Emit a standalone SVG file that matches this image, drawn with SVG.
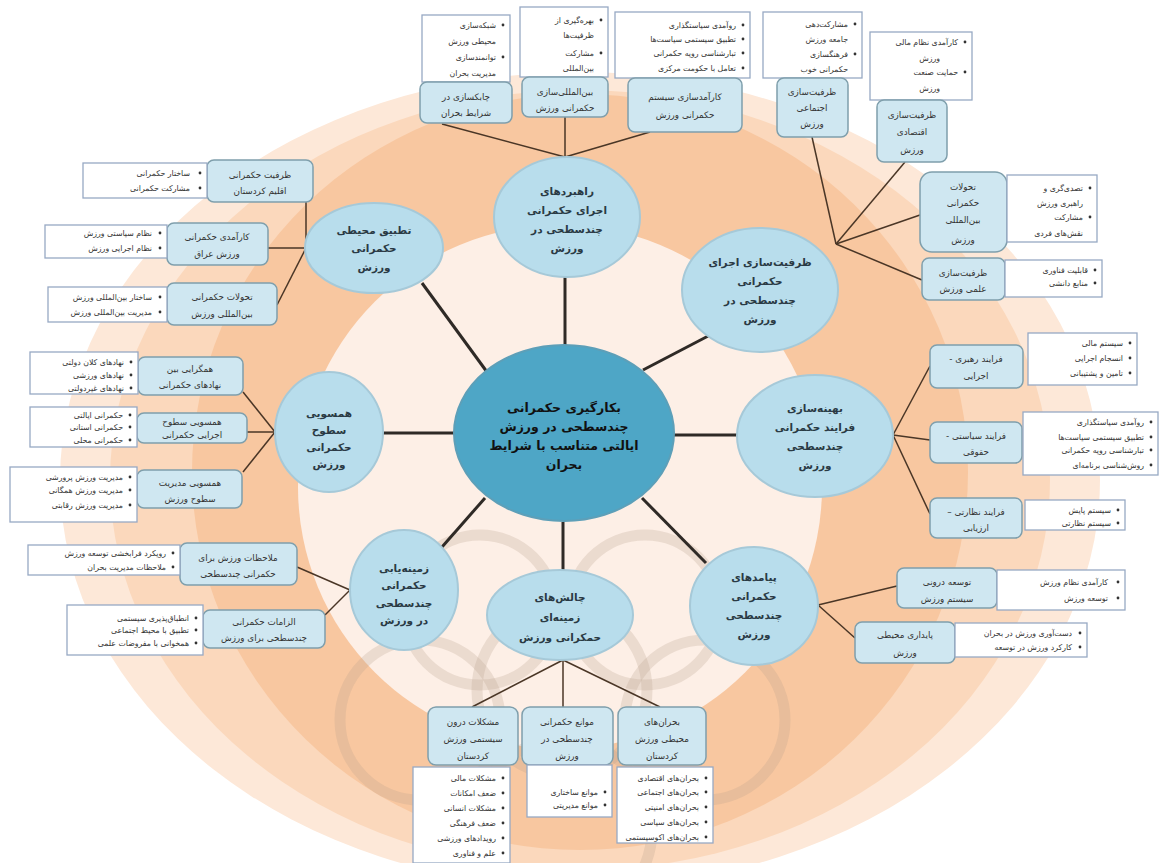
<svg xmlns="http://www.w3.org/2000/svg" width="1160" height="863" viewBox="0 0 1160 863">
<style>
text{font-family:"DejaVu Sans","Noto Sans",sans-serif;direction:rtl;fill:#333}
.nb{fill:#cfe7f1;stroke:#7f9fac;stroke-width:1.5}
.bb{fill:#fff;stroke:#97a9c4;stroke-width:1.3}
.el{fill:#b8ddec;stroke:#a6c9d8;stroke-width:2}
.ce{fill:#4ea6c6;stroke:#5d9fb8;stroke-width:2}
.tn{font-size:8.8px;text-anchor:middle}
.tb{font-size:7.8px;text-anchor:start}
.te{font-size:10.5px;font-weight:bold;text-anchor:middle;fill:#2a3a44}
.tc{font-size:12.5px;font-weight:bold;text-anchor:middle;fill:#111}
.dot{fill:#333}
.main{stroke:#2f2a26;stroke-width:3;fill:none}
.sub{stroke:#4a3626;stroke-width:1.5;fill:none}
.wm{fill:none;stroke:#b8a08c;stroke-width:11;opacity:0.25}
</style>
<rect width="1160" height="863" fill="#fff"/>
<g id="background">
<ellipse cx="580" cy="480" rx="520" ry="408" fill="#fde8d8"/>
<ellipse cx="580" cy="480" rx="470" ry="390" fill="#fbd8bc"/>
<ellipse cx="580" cy="472" rx="388" ry="378" fill="#f8c7a0"/>
<ellipse cx="560" cy="487" rx="262" ry="262" fill="#fdefe6"/>
<g id="watermark">
<circle cx="480" cy="610" r="75" class="wm"/>
<circle cx="645" cy="610" r="75" class="wm"/>
<circle cx="562" cy="690" r="85" class="wm"/>
<circle cx="420" cy="720" r="80" class="wm"/>
<circle cx="705" cy="720" r="80" class="wm"/>
<circle cx="562" cy="830" r="90" class="wm"/>
</g>
</g>
<g id="connectors">
<line class="main" x1="565" y1="345" x2="565" y2="277"/>
<line class="main" x1="643" y1="370" x2="712" y2="334"/>
<line class="main" x1="674" y1="435" x2="737" y2="435"/>
<line class="main" x1="642" y1="498" x2="706" y2="563"/>
<line class="main" x1="563" y1="522" x2="563" y2="570"/>
<line class="main" x1="485" y1="498" x2="442" y2="547"/>
<line class="main" x1="455" y1="433" x2="383" y2="433"/>
<line class="main" x1="487" y1="372" x2="422" y2="283"/>
<line class="sub" x1="565" y1="157" x2="442" y2="124"/>
<line class="sub" x1="565" y1="157" x2="565" y2="117"/>
<line class="sub" x1="565" y1="157" x2="650" y2="132"/>
<line class="sub" x1="836" y1="244" x2="812" y2="137"/>
<line class="sub" x1="836" y1="244" x2="905" y2="162"/>
<line class="sub" x1="836" y1="244" x2="920" y2="215"/>
<line class="sub" x1="836" y1="244" x2="922" y2="280"/>
<line class="sub" x1="893" y1="435" x2="930" y2="366"/>
<line class="sub" x1="893" y1="435" x2="930" y2="440"/>
<line class="sub" x1="893" y1="435" x2="930" y2="514"/>
<line class="sub" x1="818" y1="605" x2="897" y2="586"/>
<line class="sub" x1="818" y1="605" x2="855" y2="638"/>
<line class="sub" x1="563" y1="660" x2="472" y2="707"/>
<line class="sub" x1="563" y1="660" x2="563" y2="707"/>
<line class="sub" x1="563" y1="660" x2="660" y2="707"/>
<line class="sub" x1="350" y1="590" x2="297" y2="567"/>
<line class="sub" x1="350" y1="590" x2="325" y2="615"/>
<line class="sub" x1="275" y1="432" x2="243" y2="392"/>
<line class="sub" x1="275" y1="432" x2="247" y2="432"/>
<line class="sub" x1="275" y1="432" x2="243" y2="472"/>
<line class="sub" x1="306" y1="202" x2="306" y2="248"/>
<line class="sub" x1="268" y1="248" x2="306" y2="248"/>
<line class="sub" x1="306" y1="248" x2="277" y2="305"/>
</g>
<g id="center">
<ellipse class="ce" cx="564" cy="433" rx="110" ry="88"/>
<text class="tc" x="564" y="412">بکارگیری حکمرانی</text>
<text class="tc" x="564" y="431">چندسطحی در ورزش</text>
<text class="tc" x="564" y="450">ایالتی متناسب با شرایط</text>
<text class="tc" x="564" y="469">بحران</text>
</g>
<g id="rahbordha">
<ellipse class="el" cx="567" cy="217" rx="73" ry="60"/>
<text class="te" x="567" y="195">راهبردهای</text>
<text class="te" x="567" y="214">اجرای حکمرانی</text>
<text class="te" x="567" y="233">چندسطحی در</text>
<text class="te" x="567" y="252">ورزش</text>
</g>
<g id="n-chabok">
<rect class="bb" x="422" y="15" width="88" height="67"/>
<circle class="dot" cx="503" cy="25" r="1.4"/><circle class="dot" cx="503" cy="57" r="1.4"/>
<text class="tb" x="496" y="28">شبکه‌سازی</text>
<text class="tb" x="496" y="44">محیطی ورزش</text>
<text class="tb" x="496" y="60">توانمندسازی</text>
<text class="tb" x="496" y="76">مدیریت بحران</text>
<rect class="nb" x="420" y="82" width="92" height="41" rx="7"/>
<text class="tn" x="466" y="100">چابکسازی در</text>
<text class="tn" x="466" y="116">شرایط بحران</text>
</g>
<g id="n-beynolmelali">
<rect class="bb" x="520" y="7" width="88" height="70"/>
<circle class="dot" cx="601" cy="20" r="1.4"/><circle class="dot" cx="601" cy="53" r="1.4"/>
<text class="tb" x="594" y="23">بهره‌گیری از</text>
<text class="tb" x="594" y="38">ظرفیت‌ها</text>
<text class="tb" x="594" y="56">مشارکت</text>
<text class="tb" x="594" y="71">بین‌المللی</text>
<rect class="nb" x="522" y="77" width="86" height="40" rx="7"/>
<text class="tn" x="565" y="95">بین‌المللی‌سازی</text>
<text class="tn" x="565" y="111">حکمرانی ورزش</text>
</g>
<g id="n-karamadsazi">
<rect class="bb" x="615" y="12" width="135" height="66"/>
<circle class="dot" cx="743" cy="25" r="1.4"/><circle class="dot" cx="743" cy="39" r="1.4"/><circle class="dot" cx="743" cy="53" r="1.4"/><circle class="dot" cx="743" cy="68" r="1.4"/>
<text class="tb" x="736" y="28">روآمدی سیاستگذاری</text>
<text class="tb" x="736" y="42">تطبیق سیستمی سیاست‌ها</text>
<text class="tb" x="736" y="56">تبارشناسی رویه حکمرانی</text>
<text class="tb" x="736" y="71">تعامل با حکومت مرکزی</text>
<rect class="nb" x="628" y="78" width="114" height="54" rx="7"/>
<text class="tn" x="685" y="100">کارآمدسازی سیستم</text>
<text class="tn" x="685" y="118">حکمرانی ورزش</text>
</g>
<g id="zarfiyatsazi">
<ellipse class="el" cx="760" cy="290" rx="78" ry="62"/>
<text class="te" x="760" y="266">ظرفیت‌سازی اجرای</text>
<text class="te" x="760" y="285">حکمرانی</text>
<text class="te" x="760" y="304">چندسطحی در</text>
<text class="te" x="760" y="323">ورزش</text>
</g>
<g id="n-ejtemaei">
<rect class="bb" x="763" y="12" width="99" height="66"/>
<circle class="dot" cx="855" cy="24" r="1.4"/><circle class="dot" cx="855" cy="54" r="1.4"/>
<text class="tb" x="848" y="27">مشارکت‌دهی</text>
<text class="tb" x="848" y="42">جامعه ورزش</text>
<text class="tb" x="848" y="57">فرهنگسازی</text>
<text class="tb" x="848" y="72">حکمرانی خوب</text>
<rect class="nb" x="777" y="78" width="71" height="59" rx="7"/>
<text class="tn" x="812" y="95">ظرفیت‌سازی</text>
<text class="tn" x="812" y="111">اجتماعی</text>
<text class="tn" x="812" y="127">ورزش</text>
</g>
<g id="n-eghtesadi">
<rect class="bb" x="870" y="32" width="102" height="68"/>
<circle class="dot" cx="965" cy="42" r="1.4"/><circle class="dot" cx="965" cy="72" r="1.4"/>
<text class="tb" x="958" y="45">کارآمدی نظام مالی</text>
<text class="tb" x="940" y="61">ورزش</text>
<text class="tb" x="958" y="75">حمایت صنعت</text>
<text class="tb" x="940" y="91">ورزش</text>
<rect class="nb" x="877" y="100" width="70" height="62" rx="7"/>
<text class="tn" x="912" y="118">ظرفیت‌سازی</text>
<text class="tn" x="912" y="135">اقتصادی</text>
<text class="tn" x="912" y="153">ورزش</text>
</g>
<g id="n-tahavolat-r">
<rect class="nb" x="920" y="172" width="87" height="80" rx="12"/>
<text class="tn" x="963" y="190">تحولات</text>
<text class="tn" x="963" y="206">حکمرانی</text>
<text class="tn" x="963" y="223">بین‌المللی</text>
<text class="tn" x="963" y="243">ورزش</text>
<rect class="bb" x="1007" y="175" width="90" height="67"/>
<circle class="dot" cx="1090" cy="188" r="1.4"/><circle class="dot" cx="1090" cy="217" r="1.4"/>
<text class="tb" x="1083" y="191">تصدی‌گری و</text>
<text class="tb" x="1083" y="206">راهبری ورزش</text>
<text class="tb" x="1083" y="220">مشارکت</text>
<text class="tb" x="1083" y="236">نقش‌های فردی</text>
</g>
<g id="n-elmi">
<rect class="nb" x="922" y="258" width="83" height="42" rx="7"/>
<text class="tn" x="963" y="276">ظرفیت‌سازی</text>
<text class="tn" x="963" y="292">علمی ورزش</text>
<rect class="bb" x="1005" y="260" width="97" height="37"/>
<circle class="dot" cx="1095" cy="270" r="1.4"/><circle class="dot" cx="1095" cy="283" r="1.4"/>
<text class="tb" x="1088" y="273">قابلیت فناوری</text>
<text class="tb" x="1088" y="286">منابع دانشی</text>
</g>
<g id="behinesazi">
<ellipse class="el" cx="815" cy="436" rx="78" ry="61"/>
<text class="te" x="815" y="412">بهینه‌سازی</text>
<text class="te" x="815" y="431">فرایند حکمرانی</text>
<text class="te" x="815" y="450">چندسطحی</text>
<text class="te" x="815" y="469">ورزش</text>
</g>
<g id="n-rahbari">
<rect class="nb" x="930" y="345" width="93" height="43" rx="7"/>
<text class="tn" x="976" y="362">فرایند رهبری -</text>
<text class="tn" x="976" y="379">اجرایی</text>
<rect class="bb" x="1028" y="333" width="109" height="52"/>
<circle class="dot" cx="1130" cy="343" r="1.4"/><circle class="dot" cx="1130" cy="358" r="1.4"/><circle class="dot" cx="1130" cy="373" r="1.4"/>
<text class="tb" x="1123" y="346">سیستم مالی</text>
<text class="tb" x="1123" y="361">انسجام اجرایی</text>
<text class="tb" x="1123" y="376">تامین و پشتیبانی</text>
</g>
<g id="n-siyasati">
<rect class="nb" x="930" y="422" width="92" height="41" rx="7"/>
<text class="tn" x="976" y="439">فرایند سیاستی -</text>
<text class="tn" x="976" y="455">حقوقی</text>
<rect class="bb" x="1023" y="412" width="135" height="63"/>
<circle class="dot" cx="1151" cy="422" r="1.4"/><circle class="dot" cx="1151" cy="437" r="1.4"/><circle class="dot" cx="1151" cy="450" r="1.4"/><circle class="dot" cx="1151" cy="465" r="1.4"/>
<text class="tb" x="1144" y="425">روآمدی سیاستگذاری</text>
<text class="tb" x="1144" y="440">تطبیق سیستمی سیاست‌ها</text>
<text class="tb" x="1144" y="453">تبارشناسی رویه حکمرانی</text>
<text class="tb" x="1144" y="468">روش‌شناسی برنامه‌ای</text>
</g>
<g id="n-nezarati">
<rect class="nb" x="930" y="498" width="92" height="40" rx="7"/>
<text class="tn" x="976" y="515">فرایند نظارتی –</text>
<text class="tn" x="976" y="531">ارزیابی</text>
<rect class="bb" x="1025" y="500" width="100" height="30"/>
<circle class="dot" cx="1118" cy="510" r="1.4"/><circle class="dot" cx="1118" cy="523" r="1.4"/>
<text class="tb" x="1111" y="513">سیستم پایش</text>
<text class="tb" x="1111" y="526">سیستم نظارتی</text>
</g>
<g id="payamadha">
<ellipse class="el" cx="754" cy="606" rx="64" ry="59"/>
<text class="te" x="754" y="581">پیامدهای</text>
<text class="te" x="754" y="600">حکمرانی</text>
<text class="te" x="754" y="619">چندسطحی</text>
<text class="te" x="754" y="638">ورزش</text>
</g>
<g id="n-toseeh">
<rect class="nb" x="897" y="568" width="100" height="40" rx="7"/>
<text class="tn" x="947" y="585">توسعه درونی</text>
<text class="tn" x="947" y="602">سیستم ورزش</text>
<rect class="bb" x="997" y="570" width="128" height="40"/>
<circle class="dot" cx="1118" cy="582" r="1.4"/><circle class="dot" cx="1118" cy="598" r="1.4"/>
<text class="tb" x="1108" y="585">کارآمدی نظام ورزش</text>
<text class="tb" x="1108" y="601">توسعه ورزش</text>
</g>
<g id="n-paydari">
<rect class="nb" x="855" y="622" width="100" height="41" rx="7"/>
<text class="tn" x="905" y="638">پایداری محیطی</text>
<text class="tn" x="905" y="656">ورزش</text>
<rect class="bb" x="955" y="623" width="132" height="34"/>
<circle class="dot" cx="1080" cy="633" r="1.4"/><circle class="dot" cx="1080" cy="647" r="1.4"/>
<text class="tb" x="1072" y="636">دست‌آوری ورزش در بحران</text>
<text class="tb" x="1072" y="650">کارکرد ورزش در توسعه</text>
</g>
<g id="chaleshha">
<ellipse class="el" cx="560" cy="615" rx="73" ry="45"/>
<text class="te" x="560" y="601">چالش‌های</text>
<text class="te" x="560" y="621">زمینه‌ای</text>
<text class="te" x="560" y="641">حمکرانی ورزش</text>
</g>
<g id="n-moshkelat">
<rect class="nb" x="428" y="707" width="90" height="58" rx="8"/>
<text class="tn" x="473" y="725">مشکلات درون</text>
<text class="tn" x="473" y="742">سیستمی ورزش</text>
<text class="tn" x="473" y="759">کردستان</text>
<rect class="bb" x="413" y="767" width="97" height="96"/>
<circle class="dot" cx="503" cy="778" r="1.4"/><circle class="dot" cx="503" cy="793" r="1.4"/><circle class="dot" cx="503" cy="808" r="1.4"/><circle class="dot" cx="503" cy="823" r="1.4"/><circle class="dot" cx="503" cy="838" r="1.4"/><circle class="dot" cx="503" cy="853" r="1.4"/>
<text class="tb" x="496" y="781">مشکلات مالی</text>
<text class="tb" x="496" y="796">ضعف امکانات</text>
<text class="tb" x="496" y="811">مشکلات انسانی</text>
<text class="tb" x="496" y="826">ضعف فرهنگی</text>
<text class="tb" x="496" y="841">رویدادهای ورزشی</text>
<text class="tb" x="496" y="856">علم و فناوری</text>
</g>
<g id="n-mavane">
<rect class="nb" x="522" y="707" width="91" height="58" rx="8"/>
<text class="tn" x="567" y="725">موانع حکمرانی</text>
<text class="tn" x="567" y="742">چندسطحی در</text>
<text class="tn" x="567" y="759">ورزش</text>
<rect class="bb" x="527" y="765" width="85" height="52"/>
<circle class="dot" cx="605" cy="792" r="1.4"/><circle class="dot" cx="605" cy="805" r="1.4"/>
<text class="tb" x="598" y="795">موانع ساختاری</text>
<text class="tb" x="598" y="808">موانع مدیریتی</text>
</g>
<g id="n-bohranha">
<rect class="nb" x="618" y="707" width="88" height="58" rx="8"/>
<text class="tn" x="662" y="725">بحران‌های</text>
<text class="tn" x="662" y="742">محیطی ورزش</text>
<text class="tn" x="662" y="759">کردستان</text>
<rect class="bb" x="617" y="767" width="96" height="76"/>
<circle class="dot" cx="706" cy="778" r="1.4"/><circle class="dot" cx="706" cy="792" r="1.4"/><circle class="dot" cx="706" cy="807" r="1.4"/><circle class="dot" cx="706" cy="822" r="1.4"/><circle class="dot" cx="706" cy="837" r="1.4"/>
<text class="tb" x="699" y="781">بحران‌های اقتصادی</text>
<text class="tb" x="699" y="795">بحران‌های اجتماعی</text>
<text class="tb" x="699" y="810">بحران‌های امنیتی</text>
<text class="tb" x="699" y="825">بحران‌های سیاسی</text>
<text class="tb" x="699" y="840">بحران‌های اکوسیستمی</text>
</g>
<g id="zaminehyabi">
<ellipse class="el" cx="404" cy="590" rx="54" ry="60"/>
<text class="te" x="404" y="572">زمینه‌یابی</text>
<text class="te" x="404" y="589">حکمرانی</text>
<text class="te" x="404" y="607">چندسطحی</text>
<text class="te" x="404" y="624">در ورزش</text>
</g>
<g id="n-molahezat">
<rect class="nb" x="180" y="543" width="117" height="42" rx="7"/>
<text class="tn" x="238" y="561">ملاحظات ورزش برای</text>
<text class="tn" x="238" y="577">حکمرانی چندسطحی</text>
<rect class="bb" x="28" y="545" width="152" height="30"/>
<circle class="dot" cx="173" cy="553" r="1.4"/><circle class="dot" cx="173" cy="567" r="1.4"/>
<text class="tb" x="166" y="556">رویکرد فرابخشی توسعه ورزش</text>
<text class="tb" x="166" y="570">ملاحظات مدیریت بحران</text>
</g>
<g id="n-elzamat">
<rect class="nb" x="203" y="610" width="122" height="38" rx="7"/>
<text class="tn" x="264" y="625">الزامات حکمرانی</text>
<text class="tn" x="264" y="641">چندسطحی برای ورزش</text>
<rect class="bb" x="67" y="605" width="136" height="50"/>
<circle class="dot" cx="196" cy="618" r="1.4"/><circle class="dot" cx="196" cy="630" r="1.4"/><circle class="dot" cx="196" cy="643" r="1.4"/>
<text class="tb" x="189" y="621">انطباق‌پذیری سیستمی</text>
<text class="tb" x="189" y="633">تطبیق با محیط اجتماعی</text>
<text class="tb" x="189" y="646">همخوانی با مفروضات علمی</text>
</g>
<g id="hamsoei">
<ellipse class="el" cx="329" cy="432" rx="54" ry="60"/>
<text class="te" x="329" y="417">همسویی</text>
<text class="te" x="329" y="434">سطوح</text>
<text class="te" x="329" y="451">حکمرانی</text>
<text class="te" x="329" y="468">ورزش</text>
</g>
<g id="n-hamgerayi">
<rect class="nb" x="138" y="357" width="105" height="38" rx="7"/>
<text class="tn" x="190" y="372">همگرایی بین</text>
<text class="tn" x="190" y="388">نهادهای حکمرانی</text>
<rect class="bb" x="30" y="352" width="108" height="42"/>
<circle class="dot" cx="131" cy="362" r="1.4"/><circle class="dot" cx="131" cy="375" r="1.4"/><circle class="dot" cx="131" cy="388" r="1.4"/>
<text class="tb" x="124" y="365">نهادهای کلان دولتی</text>
<text class="tb" x="124" y="378">نهادهای ورزشی</text>
<text class="tb" x="124" y="391">نهادهای غیردولتی</text>
</g>
<g id="n-sotooh">
<rect class="nb" x="137" y="413" width="110" height="30" rx="7"/>
<text class="tn" x="192" y="425">همسویی سطوح</text>
<text class="tn" x="192" y="438">اجرایی حکمرانی</text>
<rect class="bb" x="30" y="407" width="107" height="40"/>
<circle class="dot" cx="130" cy="415" r="1.4"/><circle class="dot" cx="130" cy="427" r="1.4"/><circle class="dot" cx="130" cy="440" r="1.4"/>
<text class="tb" x="123" y="418">حکمرانی ایالتی</text>
<text class="tb" x="123" y="430">حکمرانی استانی</text>
<text class="tb" x="123" y="443">حکمرانی محلی</text>
</g>
<g id="n-modiriat">
<rect class="nb" x="137" y="470" width="105" height="38" rx="7"/>
<text class="tn" x="190" y="486">همسویی مدیریت</text>
<text class="tn" x="190" y="502">سطوح ورزش</text>
<rect class="bb" x="10" y="467" width="127" height="55"/>
<circle class="dot" cx="130" cy="477" r="1.4"/><circle class="dot" cx="130" cy="490" r="1.4"/><circle class="dot" cx="130" cy="505" r="1.4"/>
<text class="tb" x="123" y="480">مدیریت ورزش پرورشی</text>
<text class="tb" x="123" y="493">مدیریت ورزش همگانی</text>
<text class="tb" x="123" y="508">مدیریت ورزش رقابتی</text>
</g>
<g id="tatbigh">
<ellipse class="el" cx="374" cy="248" rx="69" ry="45"/>
<text class="te" x="374" y="234">تطبیق محیطی</text>
<text class="te" x="374" y="252">حکمرانی</text>
<text class="te" x="374" y="271">ورزش</text>
</g>
<g id="n-eghlim">
<rect class="nb" x="207" y="160" width="106" height="42" rx="7"/>
<text class="tn" x="260" y="178">ظرفیت حکمرانی</text>
<text class="tn" x="260" y="194">اقلیم کردستان</text>
<rect class="bb" x="83" y="163" width="124" height="35"/>
<circle class="dot" cx="200" cy="173" r="1.4"/><circle class="dot" cx="200" cy="188" r="1.4"/>
<text class="tb" x="190" y="176">ساختار حکمرانی</text>
<text class="tb" x="190" y="191">مشارکت حکمرانی</text>
</g>
<g id="n-iraq">
<rect class="nb" x="167" y="223" width="101" height="42" rx="7"/>
<text class="tn" x="217" y="240">کارآمدی حکمرانی</text>
<text class="tn" x="217" y="257">ورزش عراق</text>
<rect class="bb" x="45" y="225" width="122" height="33"/>
<circle class="dot" cx="160" cy="233" r="1.4"/><circle class="dot" cx="160" cy="248" r="1.4"/>
<text class="tb" x="152" y="236">نظام سیاستی ورزش</text>
<text class="tb" x="152" y="251">نظام اجرایی ورزش</text>
</g>
<g id="n-tahavolat-l">
<rect class="nb" x="167" y="283" width="110" height="42" rx="7"/>
<text class="tn" x="222" y="300">تحولات حکمرانی</text>
<text class="tn" x="222" y="317">بین‌المللی ورزش</text>
<rect class="bb" x="48" y="287" width="119" height="35"/>
<circle class="dot" cx="160" cy="297" r="1.4"/><circle class="dot" cx="160" cy="312" r="1.4"/>
<text class="tb" x="152" y="300">ساختار بین‌المللی ورزش</text>
<text class="tb" x="152" y="315">مدیریت بین‌المللی ورزش</text>
</g>
</svg>
